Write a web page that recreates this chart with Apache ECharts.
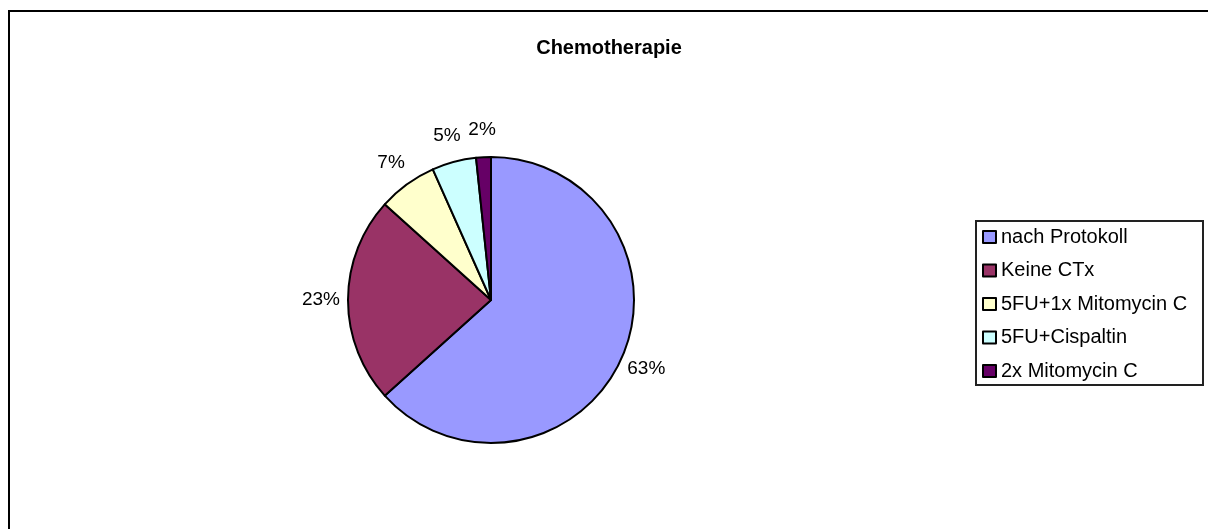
<!DOCTYPE html>
<html>
<head>
<meta charset="utf-8">
<script src="https://cdn.jsdelivr.net/npm/echarts@6/dist/echarts.min.js"></script>
<style>
  html, body { margin: 0; padding: 0; background: #fff; }
  #chart { width: 1208px; height: 529px; }
</style>
</head>
<body>
<div id="chart"></div>
<script>
// Chemotherapie – Anteile (Fallzahlen geschätzt aus den Prozenten)
var categories = ["nach Protokoll", "Keine CTx", "5FU+1x Mitomycin C", "5FU+Cispaltin", "2x Mitomycin C"];
var counts = [38, 14, 4, 3, 1];
var colors = ["#9999FF", "#993366", "#FFFFCC", "#CCFFFF", "#660066"];

var chart = echarts.init(document.getElementById("chart"));

var pieData = categories.map(function (name, i) {
  return { name: name, value: counts[i], itemStyle: { color: colors[i] } };
});

// unsichtbarer Ring nur für die Prozent-Beschriftungen außen
var labelData = categories.map(function (name, i) {
  return { name: name, value: counts[i] };
});

var legendData = categories.map(function (name, i) {
  return { name: name, itemStyle: { color: colors[i] } };
});

var option = {
  animation: false,
  textStyle: { fontFamily: "Liberation Sans, Arial, sans-serif" },
  title: {
    text: "Chemotherapie",
    left: 604,
    top: 33,
    textAlign: "center",
    textStyle: { fontSize: 20, fontWeight: "bold", color: "#000" }
  },
  graphic: [
    {
      type: "rect",
      shape: { x: 9, y: 11, width: 1300, height: 600 },
      style: { fill: null, stroke: "#000", lineWidth: 2 }
    },
    {
      type: "rect",
      shape: { x: 976, y: 221, width: 227, height: 164 },
      style: { fill: null, stroke: "#222", lineWidth: 2 }
    }
  ],
  legend: {
    orient: "vertical",
    left: 976,
    top: 220,
    padding: [7, 0, 0, 6],
    icon: "rect",
    itemWidth: 13,
    itemHeight: 12,
    itemGap: 13.5,
    itemStyle: { borderColor: "#000", borderWidth: 2 },
    textStyle: { fontSize: 20, lineHeight: 20, color: "#000" },
    data: legendData
  },
  series: [
    {
      type: "pie",
      center: [491, 300],
      radius: 143,
      startAngle: 90,
      clockwise: true,
      data: pieData,
      itemStyle: { borderColor: "#000", borderWidth: 2 },
      label: { show: false },
      labelLine: { show: false },
      emphasis: { disabled: true }
    },
    {
      type: "pie",
      center: [491, 300],
      radius: [149, 185],
      startAngle: 90,
      clockwise: true,
      silent: true,
      data: labelData,
      itemStyle: { color: "transparent", borderWidth: 0 },
      label: {
        show: true,
        position: "inside",
        formatter: function (p) { return Math.round(p.percent) + "%"; },
        fontSize: 19,
        color: "#000"
      },
      labelLine: { show: false },
      emphasis: { disabled: true }
    }
  ]
};

chart.setOption(option);
</script>
</body>
</html>
